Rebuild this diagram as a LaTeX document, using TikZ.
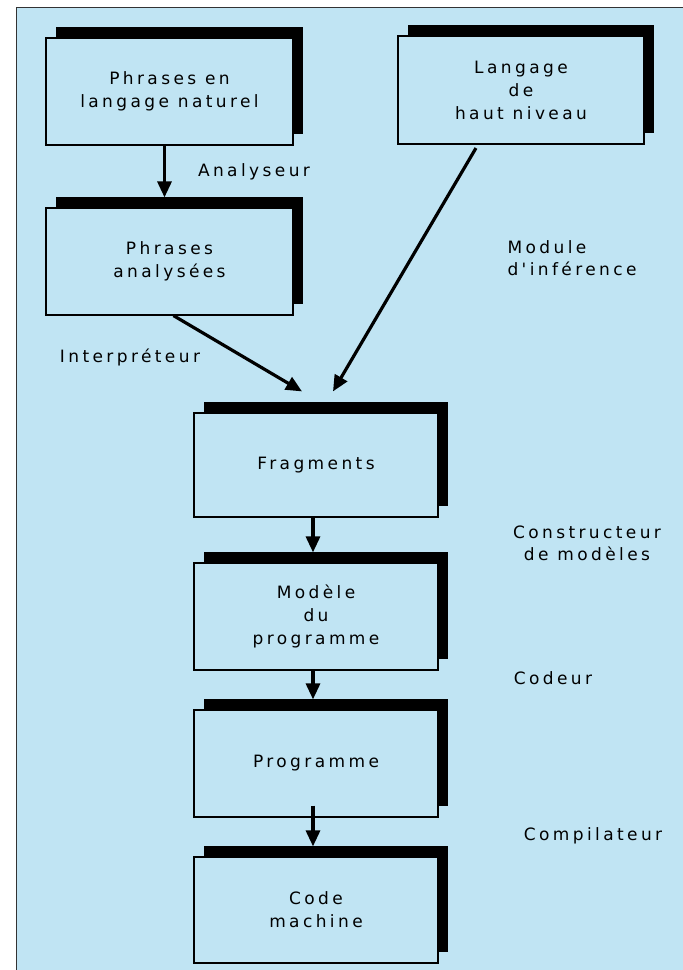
\documentclass[tikz,border=0pt]{standalone}
\usepackage{fontspec}
\usepackage{xcolor}
\usepackage{tikz}
\usetikzlibrary{arrows.meta,shadows}
\newfontfamily\pixfont[LetterSpace=20]{DejaVu Sans}
\definecolor{fond}{RGB}{192,228,243}

\begin{document}
\begin{tikzpicture}[x=1pt,y=-1pt,>={Triangle[length=16pt,width=14pt]},
  boite/.style={rectangle,draw,line width=1.2pt,fill=fond,minimum height=107pt,
    align=center,font=\pixfont\fontsize{17}{23}\selectfont,
    drop shadow={shadow xshift=10pt,shadow yshift=11pt,fill=black,opacity=1}},
  fleche/.style={->,line width=3.2pt},
  legende/.style={font=\pixfont\fontsize{17}{22}\selectfont}]
  \useasboundingbox (0,0) rectangle (683,970);
  \fill[fond] (16,7) rectangle (683,970);
  \draw[black!80,line width=1pt] (16,970) -- (16,7) -- (683,7);
  \node[boite,minimum width=247pt] (b0) at (169.5,91.5) {Phrases en\\langage naturel};
  \node[boite,minimum width=246pt,minimum height=108pt] (b1) at (521,90) {Langage\\de\\haut niveau};
  \node[boite,minimum width=247pt] (b2) at (169.5,261.5) {Phrases\\analysées};
  \node[boite,minimum width=244pt,minimum height=104pt] (b3) at (316,465) {Fragments};
  \node[boite,minimum width=244pt] (b4) at (316,616.5) {Modèle\\du\\programme};
  \node[boite,minimum width=244pt] (b5) at (316,763.5) {Programme};
  \node[boite,minimum width=244pt,minimum height=106pt] (b6) at (316,910) {Code\\machine};
  \node[legende] (l0) at (254,172) {Analyseur};
  \node[legende,align=left,anchor=west] (l1) at (504,258) {Module\\d'inférence};
  \node[legende] (l2) at (130,357) {Interpréteur};
  \node[legende,align=center] (l3) at (587,543) {Constructeur\\de modèles};
  \node[legende] (l4) at (553,678) {Codeur};
  \node[legende] (l5) at (593,836) {Compilateur};
  \draw[fleche,shorten >=10pt] ([xshift=-5pt]b0.south) -- ([xshift=-5pt]b2.north);
  \draw[fleche] ([xshift=4pt]b2.south) -- ([xshift=-14pt,yshift=21pt]b3.north);
  \draw[fleche,shorten <=4pt] ([xshift=-43pt]b1.south) -- ([xshift=17pt,yshift=21pt]b3.north);
  \draw[fleche,shorten >=10pt] ([xshift=-3pt]b3.south) -- ([xshift=-3pt]b4.north);
  \draw[fleche,shorten >=10pt] ([xshift=-3pt]b4.south) -- ([xshift=-3pt]b5.north);
  \draw[fleche,shorten <=-12pt,shorten >=10pt] ([xshift=-3pt]b5.south) -- ([xshift=-3pt]b6.north);
\end{tikzpicture}
\end{document}
